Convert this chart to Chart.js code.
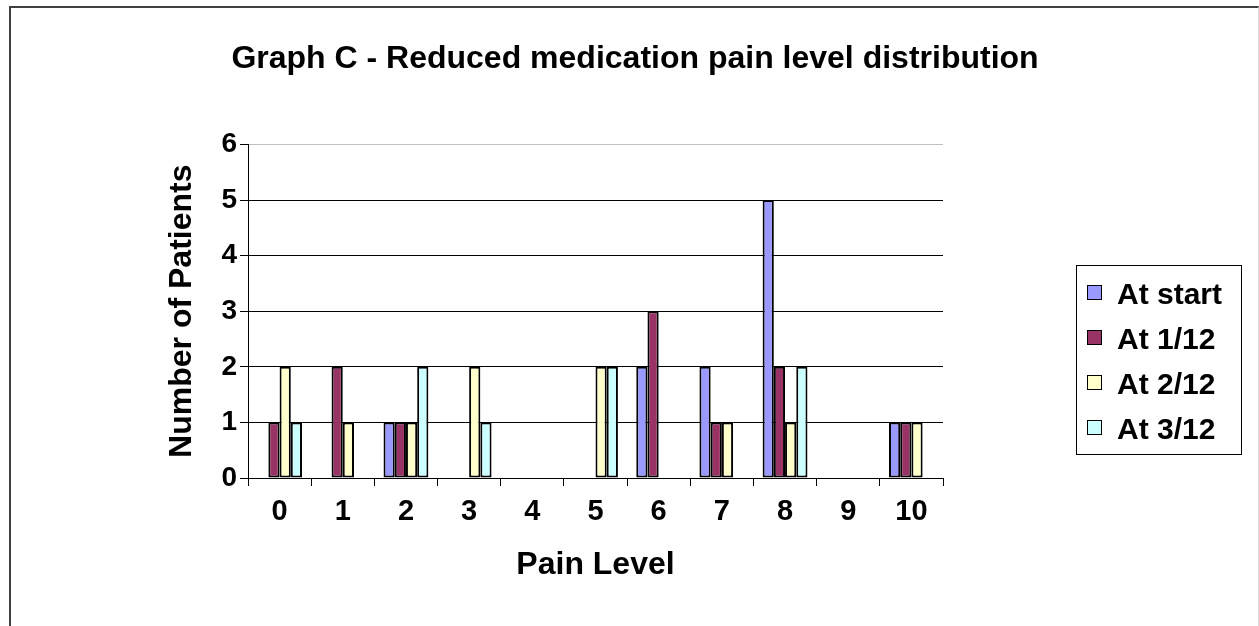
<!DOCTYPE html>
<html>
<head>
<meta charset="utf-8">
<title>Graph C - Reduced medication pain level distribution</title>
<script src="https://cdn.jsdelivr.net/npm/chart.js@4/dist/chart.umd.min.js"></script>
<style>
    html, body { margin: 0; padding: 0; background: #fff; }
    #wrap { position: relative; width: 1259px; height: 626px; overflow: hidden; }
    #frame {
        position: absolute; left: 9px; top: 6px; width: 1247px; height: 700px;
        border-top: 2px solid #404040; border-left: 2px solid #404040; border-right: 1px solid #d8d8d8;
        pointer-events: none;
    }
</style>
</head>
<body>
<div id="wrap">
    <canvas id="painChart" width="1259" height="626"></canvas>
    <div id="frame"></div>
</div>
<script>
// --- data ---
const painLevels = ['0', '1', '2', '3', '4', '5', '6', '7', '8', '9', '10'];
const seriesNames = ['At start', 'At 1/12', 'At 2/12', 'At 3/12'];
const atStart = [0, 0, 1, 0, 0, 0, 2, 2, 5, 0, 1];
const at1of12 = [1, 2, 1, 0, 0, 0, 3, 1, 2, 0, 1];
const at2of12 = [2, 1, 1, 2, 0, 2, 0, 1, 1, 0, 1];
const at3of12 = [1, 0, 2, 1, 0, 2, 0, 0, 2, 0, 0];
const yTicks = [0, 1, 2, 3, 4, 5, 6];

const seriesColors = ['#9999FF', '#993366', '#FFFFCC', '#CCFFFF'];
const FONT = "'Liberation Sans', Arial, sans-serif";

// legend box drawn on the canvas (Excel style, framed)
const boxLegend = {
    id: 'boxLegend',
    afterDraw(chart) {
        const ctx = chart.ctx;
        const x = 1076, y = 265, w = 165, h = 189;
        ctx.save();
        ctx.fillStyle = '#fff';
        ctx.fillRect(x, y, w, h);
        ctx.strokeStyle = '#000';
        ctx.lineWidth = 1;
        ctx.strokeRect(x + 0.5, y + 0.5, w, h);
        ctx.font = 'bold 30px ' + FONT;
        ctx.textBaseline = 'alphabetic';
        chart.data.datasets.forEach((ds, i) => {
            const cy = 293 + i * 45;
            ctx.fillStyle = ds.backgroundColor;
            ctx.fillRect(1087, cy - 8, 15, 15);
            ctx.strokeStyle = '#000';
            ctx.strokeRect(1087.5, cy - 7.5, 14, 14);
            ctx.fillStyle = '#000';
            ctx.fillText(ds.label, 1117, cy + 11);
        });
        ctx.restore();
    }
};

const seriesValues = [atStart, at1of12, at2of12, at3of12];

new Chart(document.getElementById('painChart'), {
    type: 'bar',
    data: {
        labels: painLevels,
        datasets: seriesNames.map((name, i) => ({
            label: name,
            data: seriesValues[i],
            backgroundColor: seriesColors[i],
            borderColor: '#000',
            borderWidth: 2,
            borderSkipped: false,
            categoryPercentage: 0.71,
            barPercentage: 1.0
        }))
    },
    options: {
        responsive: false,
        animation: false,
        devicePixelRatio: 1,
        layout: { padding: { left: 11, right: 0, top: 0, bottom: 38 } },
        plugins: {
            legend: { display: false },
            tooltip: { enabled: false },
            title: {
                display: true,
                text: 'Graph C - Reduced medication pain level distribution',
                color: '#000',
                font: { family: FONT, size: 32, weight: 'bold' },
                padding: { top: 40, bottom: 66 }
            }
        },
        scales: {
            x: {
                offset: true,
                grid: { display: true, offset: true, drawOnChartArea: false, drawTicks: true, tickLength: 8, tickColor: '#000' },
                border: { display: true, color: '#000', width: 1 },
                ticks: { color: '#000', padding: 9, font: { family: FONT, size: 29, weight: 'bold' } },
                title: {
                    display: true, text: 'Pain Level', color: '#000',
                    font: { family: FONT, size: 32, weight: 'bold' },
                    padding: { top: 4, bottom: 4 }
                },
                afterFit(scale) { scale.height = 110; }
            },
            y: {
                min: 0, max: 6,
                afterBuildTicks(scale) { scale.ticks = yTicks.map(v => ({ value: v })); },
                grid: {
                    color: ctx => (ctx.tick && ctx.tick.value === 6 ? '#c0c0c0' : '#000'),
                    lineWidth: 1, drawTicks: true, tickLength: 8, tickColor: '#000'
                },
                border: { display: true, color: '#000', width: 1 },
                ticks: { color: '#000', padding: 3, font: { family: FONT, size: 28, weight: 'bold' } },
                title: {
                    display: true, text: 'Number of Patients', color: '#000',
                    font: { family: FONT, size: 32, weight: 'bold' },
                    padding: { top: 152, bottom: 4 }
                },
                afterFit(scale) { scale.width = 237; }
            },
            // empty right-hand axis that keeps room for the legend box
            legendRoom: {
                type: 'linear', position: 'right', display: true,
                grid: { display: false }, border: { display: false }, ticks: { display: false },
                afterFit(scale) { scale.width = 316; }
            }
        }
    },
    plugins: [boxLegend]
});
</script>
</body>
</html>
